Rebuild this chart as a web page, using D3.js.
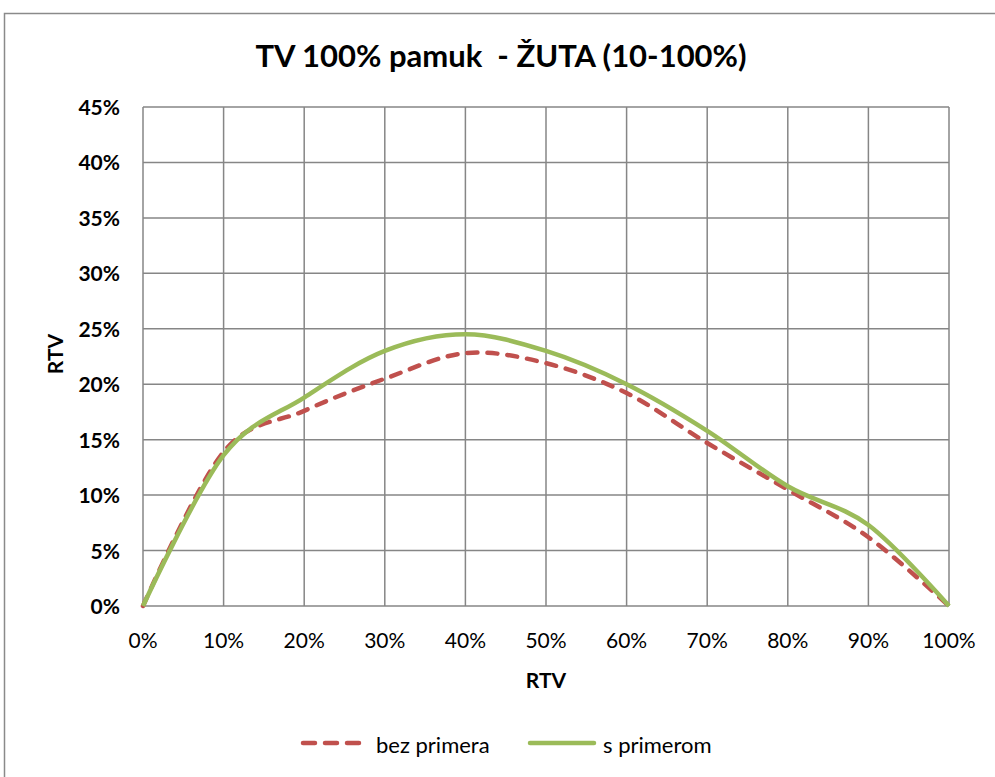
<!DOCTYPE html>
<html><head><meta charset="utf-8">
<script src="https://cdn.jsdelivr.net/npm/d3@7"></script>
<style>body{margin:0;background:#fff}svg{display:block}text{font-family:Lato,'Open Sans',sans-serif}</style>
</head><body>
<svg id="c" width="995" height="777"></svg>
<script>
const categories = [0, 10, 20, 30, 40, 50, 60, 70, 80, 90, 100];
const bezPrimera = [0, 13.9, 17.6, 20.5, 22.8, 21.9, 19.2, 14.7, 10.5, 6.2, 0];
const sPrimerom = [0, 13.6, 18.8, 23.0, 24.5, 23.0, 20.0, 15.8, 10.8, 7.3, 0];
const yTicks = [0, 5, 10, 15, 20, 25, 30, 35, 40, 45];
const xTicks = [0, 10, 20, 30, 40, 50, 60, 70, 80, 90, 100];
const seriesNames = ["bez primera", "s primerom"];

const svg = d3.select("#c");
svg.append("rect").attr("x",4.5).attr("y",13.5).attr("width",1000).attr("height",800)
  .attr("fill","#fff").attr("stroke","#8a8a8a").attr("stroke-width",1.5);

const x = d3.scaleLinear().domain([0,100]).range([143,949]);
const y = d3.scaleLinear().domain([0,45]).range([606,107]);
const grid = "#868686";

const g = svg.append("g");
g.selectAll(".hg").data(yTicks).join("line")
  .attr("x1",x(0)).attr("x2",x(100)).attr("y1",d=>y(d)).attr("y2",d=>y(d))
  .attr("stroke",grid).attr("stroke-width",1.5);
g.selectAll(".vg").data(xTicks).join("line")
  .attr("y1",y(0)).attr("y2",y(45)).attr("x1",d=>x(d)).attr("x2",d=>x(d))
  .attr("stroke",grid).attr("stroke-width",1.5);

g.selectAll(".yl").data(yTicks).join("text")
  .attr("x",120).attr("y",d=>y(d)+8).attr("text-anchor","end")
  .attr("font-size",21).attr("font-weight","bold").attr("fill","#000").text(d=>d+"%");
g.selectAll(".xl").data(xTicks).join("text")
  .attr("x",d=>x(d)).attr("y",648).attr("text-anchor","middle")
  .attr("font-size",21).attr("fill","#000").text(d=>d+"%");

svg.append("text").attr("x",501).attr("y",67).attr("text-anchor","middle")
  .attr("font-size",31).attr("font-weight","bold").attr("xml:space","preserve").text("TV 100% pamuk  - ŽUTA (10-100%)");
svg.append("text").attr("x",546).attr("y",688).attr("text-anchor","middle")
  .attr("font-size",21).attr("font-weight","bold").text("RTV");
svg.append("text").attr("transform","translate(63,354) rotate(-90)").attr("text-anchor","middle")
  .attr("font-size",21).attr("font-weight","bold").text("RTV");

const line = d3.line().x((d,i)=>x(categories[i])).y(d=>y(d)).curve(d3.curveCardinal.tension(0));
svg.append("path").attr("d",line(bezPrimera)).attr("fill","none").attr("stroke","#C0504D")
  .attr("stroke-width",4.5).attr("stroke-dasharray","10,10").attr("stroke-linecap","round");
svg.append("path").attr("d",line(sPrimerom)).attr("fill","none").attr("stroke","#9BBB59")
  .attr("stroke-width",4.5);

// legend
const lg = svg.append("g");
lg.append("line").attr("x1",303).attr("x2",360).attr("y1",743).attr("y2",743)
  .attr("stroke","#C0504D").attr("stroke-width",4.5).attr("stroke-dasharray","12,10").attr("stroke-linecap","round");
lg.append("text").attr("x",376).attr("y",753).attr("font-size",22).text(seriesNames[0]);
lg.append("line").attr("x1",530).attr("x2",594).attr("y1",743).attr("y2",743)
  .attr("stroke","#9BBB59").attr("stroke-width",4.5).attr("stroke-linecap","round");
lg.append("text").attr("x",603).attr("y",753).attr("font-size",22).text(seriesNames[1]);
</script>
</body></html>
